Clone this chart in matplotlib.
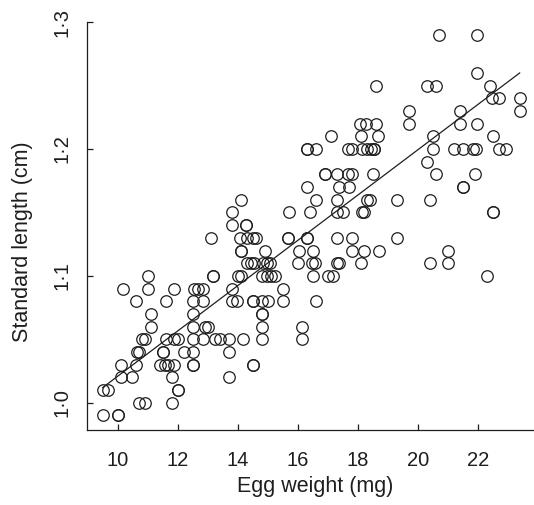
import matplotlib
matplotlib.use('Agg')
import matplotlib.pyplot as plt

# egg weight (mg), one row per length level
egg_weight = [
    9.5, 10.0, 10.0,
    10.7, 10.9, 11.8,
    9.52, 9.69, 12.0, 12.0,
    10.1, 10.49, 11.8, 13.7,
    10.1, 10.6, 11.41, 11.58, 11.69, 11.89, 12.52, 12.52, 14.5, 14.5,
    10.65, 10.72, 11.5, 11.5, 12.21, 12.52, 13.71,
    10.8, 10.91, 11.61, 11.89, 12.0, 12.52, 12.83, 13.24, 13.41, 13.71, 14.19, 14.8, 16.13,
    11.1, 12.52, 12.91, 13.02, 14.8, 16.13,
    11.1, 12.52, 14.8, 14.8,
    10.6, 11.6, 12.52, 12.83, 13.82, 13.97, 14.5, 14.5, 14.8, 15.02, 15.5, 16.61,
    10.19, 11.02, 11.89, 12.55, 12.69, 12.83, 13.8, 15.5,
    11.02, 13.19, 13.19, 14.02, 14.1, 14.8, 14.97, 15.1, 15.24, 16.5, 17.02, 17.19, 22.3,
    14.3, 14.43, 14.55, 14.85, 14.97, 15.08, 16.02, 16.47, 16.58, 17.3, 17.39, 18.1, 20.4, 21.0,
    14.1, 14.1, 14.91, 16.05, 16.5, 17.8, 18.2, 18.7, 21.0,
    13.11, 14.08, 14.3, 14.5, 14.6, 15.69, 15.69, 16.3, 16.3, 17.3, 17.8, 19.3,
    13.82, 14.28, 14.28,
    13.8, 15.7, 16.4, 17.3, 17.5, 18.13, 18.2, 22.5, 22.5,
    14.1, 16.61, 17.3, 18.3, 18.4, 19.3, 20.4,
    16.3, 17.39, 17.7, 21.5, 21.5,
    16.91, 16.91, 17.3, 17.69, 17.8, 18.5, 20.61, 21.91,
    20.3,
    16.3, 16.3, 16.61, 17.69, 17.8, 18.13, 18.3, 18.43, 18.55, 18.55, 20.5, 21.2, 21.5, 21.85, 21.94, 22.7, 22.93,
    17.1, 18.1, 18.68, 20.5, 22.5,
    18.08, 18.27, 18.6, 19.7, 21.4, 21.99,
    19.7, 21.4, 23.41,
    22.47, 22.72, 23.41,
    18.6, 20.3, 20.61, 22.4,
    21.99,
    20.72, 21.99,
]

# standard length (cm), same order
std_length = [
    0.99, 0.99, 0.99,
    1.00, 1.00, 1.00,
    1.01, 1.01, 1.01, 1.01,
    1.02, 1.02, 1.02, 1.02,
    1.03, 1.03, 1.03, 1.03, 1.03, 1.03, 1.03, 1.03, 1.03, 1.03,
    1.04, 1.04, 1.04, 1.04, 1.04, 1.04, 1.04,
    1.05, 1.05, 1.05, 1.05, 1.05, 1.05, 1.05, 1.05, 1.05, 1.05, 1.05, 1.05, 1.05,
    1.06, 1.06, 1.06, 1.06, 1.06, 1.06,
    1.07, 1.07, 1.07, 1.07,
    1.08, 1.08, 1.08, 1.08, 1.08, 1.08, 1.08, 1.08, 1.08, 1.08, 1.08, 1.08,
    1.09, 1.09, 1.09, 1.09, 1.09, 1.09, 1.09, 1.09,
    1.10, 1.10, 1.10, 1.10, 1.10, 1.10, 1.10, 1.10, 1.10, 1.10, 1.10, 1.10, 1.10,
    1.11, 1.11, 1.11, 1.11, 1.11, 1.11, 1.11, 1.11, 1.11, 1.11, 1.11, 1.11, 1.11, 1.11,
    1.12, 1.12, 1.12, 1.12, 1.12, 1.12, 1.12, 1.12, 1.12,
    1.13, 1.13, 1.13, 1.13, 1.13, 1.13, 1.13, 1.13, 1.13, 1.13, 1.13, 1.13,
    1.14, 1.14, 1.14,
    1.15, 1.15, 1.15, 1.15, 1.15, 1.15, 1.15, 1.15, 1.15,
    1.16, 1.16, 1.16, 1.16, 1.16, 1.16, 1.16,
    1.17, 1.17, 1.17, 1.17, 1.17,
    1.18, 1.18, 1.18, 1.18, 1.18, 1.18, 1.18, 1.18,
    1.19,
    1.20, 1.20, 1.20, 1.20, 1.20, 1.20, 1.20, 1.20, 1.20, 1.20, 1.20, 1.20, 1.20, 1.20, 1.20, 1.20, 1.20,
    1.21, 1.21, 1.21, 1.21, 1.21,
    1.22, 1.22, 1.22, 1.22, 1.22, 1.22,
    1.23, 1.23, 1.23,
    1.24, 1.24, 1.24,
    1.25, 1.25, 1.25, 1.25,
    1.26,
    1.29, 1.29,
]

fit_x = [9.5, 23.4]
fit_y = [1.012, 1.260]

x_ticks = [10, 12, 14, 16, 18, 20, 22]
y_ticks = [1.0, 1.1, 1.2, 1.3]
y_tick_labels = ['1·0', '1·1', '1·2', '1·3']

assert len(egg_weight) == len(std_length)

plt.rcParams['font.family'] = ['Liberation Sans', 'DejaVu Sans']
ink = '#1e1e1e'

fig = plt.figure(figsize=(5.34, 5.05), dpi=100)
ax = fig.add_axes([0.163, 0.1485, 0.837, 0.8075])

ax.plot(egg_weight, std_length, linestyle='none', marker='o', markersize=8.3,
        markerfacecolor='none', markeredgecolor=ink, markeredgewidth=0.9)
ax.plot(fit_x, fit_y, color=ink, linewidth=0.9)

ax.set_xlim(8.977, 23.877)
ax.set_ylim(0.9785, 1.3)

ax.set_xticks(x_ticks)
ax.set_yticks(y_ticks)
ax.set_yticklabels(y_tick_labels, rotation=90, va='center')

for side in ['top', 'right']:
    ax.spines[side].set_visible(False)
for side in ['left', 'bottom']:
    ax.spines[side].set_color(ink)
    ax.spines[side].set_linewidth(0.9)

ax.tick_params(axis='both', direction='in', length=4.5, width=0.9, color=ink,
               labelsize=14.5, labelcolor=ink)
ax.tick_params(axis='x', pad=15)
ax.tick_params(axis='y', pad=11.5)

ax.set_xlabel('Egg weight (mg)', fontsize=15.5, color=ink)
ax.set_ylabel('Standard length (cm)', fontsize=15.5, color=ink)
ax.xaxis.set_label_coords(0.51, -0.112)
ax.yaxis.set_label_coords(-0.122, 0.461)

fig.savefig('out.png', dpi=100)
